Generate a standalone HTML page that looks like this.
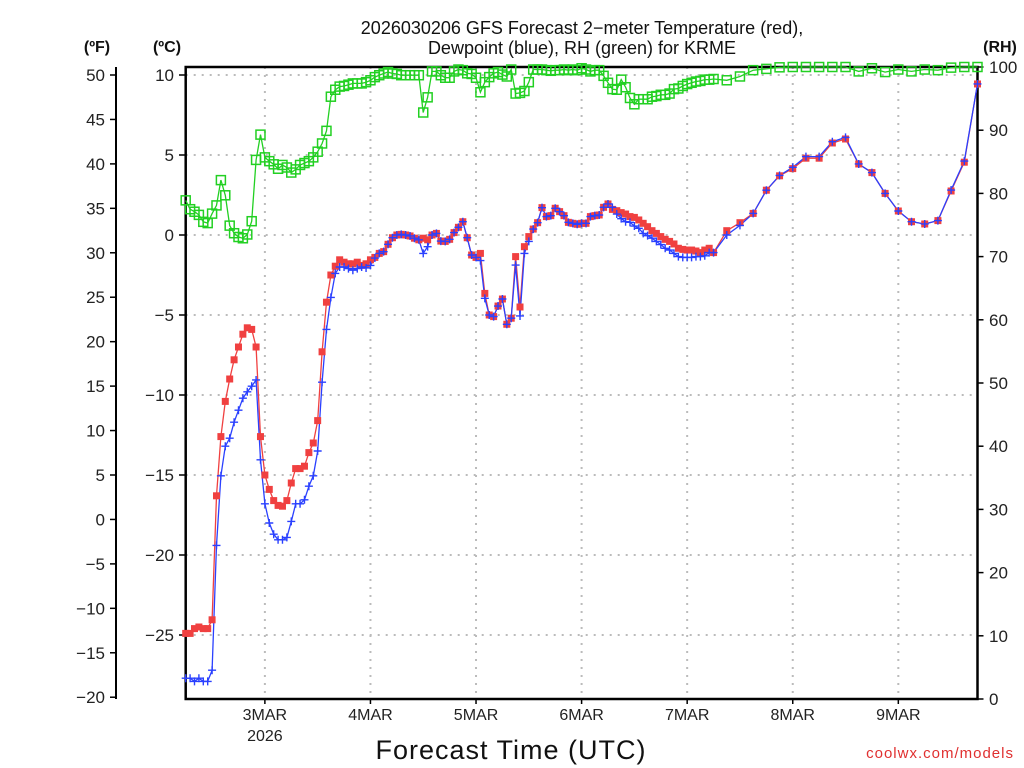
<!DOCTYPE html>
<html><head><meta charset="utf-8"><style>
html,body{margin:0;padding:0;background:#fff;}
svg{display:block;font-family:"Liberation Sans",sans-serif;}
</style></head><body>
<svg id="chart" width="1024" height="768" viewBox="0 0 1024 768">
<g id="grid"></g>
<g id="axes"></g>
<g id="series"></g>
<text x="582" y="34" text-anchor="middle" font-size="18" fill="#111">2026030206 GFS Forecast 2−meter Temperature (red),</text>
<text x="582" y="54" text-anchor="middle" font-size="18" fill="#111">Dewpoint (blue), RH (green) for KRME</text>
<text x="97" y="52" text-anchor="middle" font-size="16" font-weight="bold" fill="#111">(ºF)</text>
<text x="167" y="52" text-anchor="middle" font-size="16" font-weight="bold" fill="#111">(ºC)</text>
<text x="1000" y="52" text-anchor="middle" font-size="16" font-weight="bold" fill="#111">(RH)</text>
<text x="511" y="759" text-anchor="middle" font-size="27" fill="#111" letter-spacing="1">Forecast Time (UTC)</text>
<text x="1014" y="758" text-anchor="end" font-size="15" fill="#e03030" letter-spacing="1">coolwx.com/models</text>
</svg>
<script>
var hours = [];
for (var i = 0; i <= 120; i++) hours.push(i);
for (var j = 123; j <= 180; j += 3) hours.push(j);

var tempC = [-24.9,
-24.9,-24.6,-24.5,-24.6,-24.6,-24.05,-16.3,-12.6,-10.4,-9.0,-7.8,-7.0,-6.2,-5.8,-5.9,-7.0,-12.6,-15.0,-15.9,-16.6,-16.9,-16.95,-16.6,-15.5,-14.6,-14.6,-14.45,-13.6,-13.0,-11.6,-7.3,-4.2,-2.5,-1.95,-1.55,-1.7,-1.8,-1.8,-1.7,-1.9,-1.8,-1.55,-1.4,
-1.15,-1.04,-0.58,-0.17,0,0.04,0,-0.06,-0.2,-0.3,-0.2,-0.3,0.0,0.1,-0.38,-0.4,-0.27,0.15,0.48,0.83,-0.17,-1.25,-1.4,-1.15,-3.65,-5.0,-5.1,-4.44,-4.0,-5.58,-5.2,-1.35,-4.5,-0.73,-0.1,0.37,0.77,1.71,1.15,1.21,1.67,1.46,1.21,0.79,0.73,0.67,
0.73,0.73,1.15,1.21,1.25,1.73,1.94,1.6,1.52,1.4,1.31,1.15,1.1,0.94,0.73,0.52,0.27,0.1,-0.1,-0.27,-0.4,-0.56,-0.83,-0.9,-0.94,-0.94,-1.0,-1.1,-0.94,-0.83,-1.1,
0.27,0.77,1.35,2.8,3.7,4.15,4.8,4.8,5.75,6.0,4.44,3.9,2.6,1.5,0.83,0.69,0.9,2.75,4.55,9.44];

var dewC = [-27.7,
-27.7,-27.9,-27.7,-27.9,-27.9,-27.2,-19.4,-15.05,-13.2,-12.7,-11.7,-10.95,-10.2,-9.8,-9.45,-9.06,-14.05,-16.8,-18.0,-18.7,-19.05,-19.05,-18.9,-17.9,-16.8,-16.8,-16.55,-15.7,-15.05,-13.5,-9.2,-5.9,-3.9,-2.4,-2.0,-2.0,-2.1,-2.2,-2.1,-2.0,-2.06,-1.9,-1.44,
-1.15,-1.04,-0.58,-0.17,0,0.04,0,-0.06,-0.2,-0.3,-1.15,-0.73,0.0,0.1,-0.38,-0.4,-0.27,0.15,0.48,0.83,-0.17,-1.25,-1.4,-1.6,-3.96,-5.0,-5.1,-4.44,-4.0,-5.58,-5.2,-1.88,-5.06,-1.15,-0.4,0.37,0.77,1.71,1.15,1.21,1.67,1.46,1.21,0.79,0.73,0.67,
0.73,0.73,1.15,1.21,1.25,1.73,1.94,1.73,1.31,1.02,0.83,0.79,0.56,0.42,0.1,-0.04,-0.2,-0.4,-0.6,-0.83,-0.94,-1.15,-1.35,-1.4,-1.4,-1.4,-1.35,-1.35,-1.3,-1.1,-1.1,
0.0,0.6,1.35,2.8,3.72,4.23,4.9,4.9,5.83,6.1,4.44,3.9,2.6,1.5,0.83,0.69,0.9,2.81,4.62,9.44];

var rhPct = [78.9,77.5,77.1,76.6,75.5,75.3,76.8,78.1,82.1,79.7,74.9,73.7,73.1,72.9,73.5,75.6,85.3,89.3,85.7,85.1,84.6,83.9,84.5,84.1,83.3,83.8,84.5,84.8,85.1,85.7,86.6,87.9,89.9,95.3,96.4,96.9,97.0,97.2,97.4,97.4,97.4,97.6,97.9,98.4,
98.7,98.97,99.2,98.97,98.9,98.7,98.7,98.7,98.7,98.7,92.8,95.2,99.3,99.3,98.7,98.3,98.3,99.3,99.6,99.5,99.0,98.9,98.3,96.0,97.6,98.4,99.0,99.2,98.8,98.5,99.6,95.8,95.9,96.2,97.6,99.6,99.6,99.6,99.5,99.4,99.5,99.5,99.6,99.5,99.6,99.5,
99.8,99.6,99.3,99.5,99.5,98.6,97.5,96.5,96.4,98.0,96.8,95.1,94.1,94.9,94.9,94.9,95.3,95.4,95.6,95.6,95.8,96.5,96.6,97.0,97.3,97.5,97.7,97.8,98.0,98.0,98.1,
97.9,98.5,99.5,99.7,99.95,100,100,100,100,100,99.3,99.8,99.2,99.6,99.3,99.6,99.5,99.9,100,100];

var dayLabels = ["3MAR","4MAR","5MAR","6MAR","7MAR","8MAR","9MAR"];
var dayHours = [18,42,66,90,114,138,162];
var fTicks = [50,45,40,35,30,25,20,15,10,5,0,-5,-10,-15,-20];
var cTicks = [10,5,0,-5,-10,-15,-20,-25];
var rhTicks = [100,90,80,70,60,50,40,30,20,10,0];

var NS = "http://www.w3.org/2000/svg";
var L = 185.7, R = 977.5, T = 67, B = 699;
function xH(h){ return L + h * (R - L) / 180; }
function yC(c){ return 235 - 16 * c; }
function yF(f){ return yC((f - 32) / 1.8); }
function yRH(r){ return B - (B - T) * r / 100; }
function mk(tag, attrs, parent){
  var e = document.createElementNS(NS, tag);
  for (var k in attrs) e.setAttribute(k, attrs[k]);
  parent.appendChild(e);
  return e;
}
var grid = document.getElementById("grid"), axes = document.getElementById("axes"), series = document.getElementById("series");

// gridlines
cTicks.forEach(function(c){
  var g = mk("line", {x1:L, x2:R, y1:yC(c), y2:yC(c), stroke:"#bbb", "stroke-width":2, "stroke-dasharray":"2 6"}, grid);
  
  
});
dayHours.forEach(function(h, i){
  var g = mk("line", {x1:xH(h), x2:xH(h), y1:T, y2:B, stroke:"#bbb", "stroke-width":2, "stroke-dasharray":"2 6"}, grid);
  
  
  var t = mk("text", {x:xH(h), y:720, "text-anchor":"middle", "font-size":16, fill:"#222"}, axes);
  t.textContent = dayLabels[i];
  
  
  mk("line", {x1:xH(h), x2:xH(h), y1:B, y2:B+5, stroke:"#000", "stroke-width":1.5}, axes);
});
var yr = mk("text", {x:xH(18), y:741, "text-anchor":"middle", "font-size":16, fill:"#222"}, axes);
yr.textContent = "2026";



// F axis
var fa = mk("line", {x1:116, x2:116, y1:yF(50)-8, y2:B, stroke:"#000", "stroke-width":2}, axes);


fTicks.forEach(function(f){
  mk("line", {x1:110, x2:116, y1:yF(f), y2:yF(f), stroke:"#000", "stroke-width":1.5}, axes);
  var t = mk("text", {x:105, y:yF(f)+6, "text-anchor":"end", "font-size":17, fill:"#222"}, axes);
  t.textContent = f < 0 ? "−" + (-f) : String(f);
  
  
});
// C axis ticks
cTicks.forEach(function(c){
  mk("line", {x1:179, x2:L, y1:yC(c), y2:yC(c), stroke:"#000", "stroke-width":1.5}, axes);
  var t = mk("text", {x:174, y:yC(c)+6, "text-anchor":"end", "font-size":17, fill:"#222"}, axes);
  t.textContent = c < 0 ? "−" + (-c) : String(c);
  
  
});
// RH axis ticks
rhTicks.forEach(function(r){
  mk("line", {x1:R, x2:R+6, y1:yRH(r), y2:yRH(r), stroke:"#000", "stroke-width":1.5}, axes);
  var t = mk("text", {x:989, y:yRH(r)+6, "text-anchor":"start", "font-size":17, fill:"#222"}, axes);
  t.textContent = String(r);
  
  
});
// frame
var fr = mk("rect", {x:L, y:T, width:R-L, height:B-T, fill:"none", stroke:"#000", "stroke-width":2.5}, axes);



function drawLine(vals, yf, color, name){
  var d = vals.map(function(v, i){ return (i ? "L" : "M") + xH(hours[i]).toFixed(1) + " " + yf(v).toFixed(1); }).join(" ");
  var p = mk("path", {d:d, fill:"none", stroke:color, "stroke-width":1.3}, series);
  
  
}
drawLine(rhPct, yRH, "#22d022", "rh-line");
drawLine(tempC, yC, "#f04040", "temperature-line");
drawLine(dewC, yC, "#2a40ff", "dewpoint-line");

rhPct.forEach(function(v, i){
  var s = mk("rect", {x:xH(hours[i])-4.5, y:yRH(v)-4.5, width:9, height:9, fill:"none", stroke:"#22d022", "stroke-width":1.5}, series);
  
  
});
tempC.forEach(function(v, i){
  var s = mk("rect", {x:xH(hours[i])-3.5, y:yC(v)-3.5, width:7, height:7, fill:"#f04040"}, series);
  
  
});
dewC.forEach(function(v, i){
  var x = xH(hours[i]), y = yC(v);
  var s = mk("path", {d:"M"+(x-4)+" "+y+" H"+(x+4)+" M"+x+" "+(y-4)+" V"+(y+4), stroke:"#2a40ff", "stroke-width":1.4, fill:"none"}, series);
  
  
});
</script>
</body></html>
